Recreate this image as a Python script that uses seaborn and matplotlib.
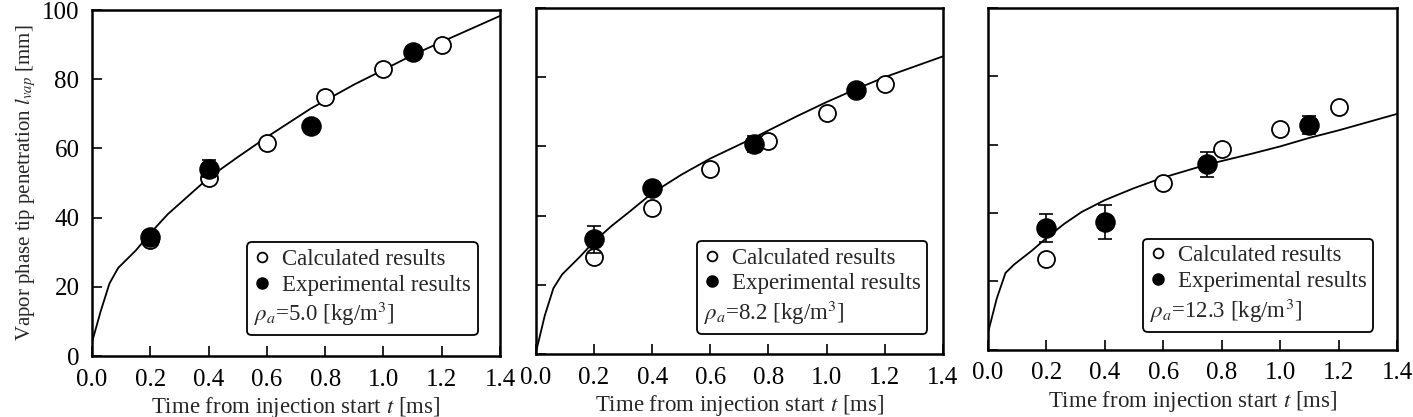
import matplotlib
matplotlib.use("Agg")
import matplotlib.pyplot as plt
from matplotlib.lines import Line2D
import seaborn as sns

# model curve and measured/calculated points for the three ambient densities
curve_t = [0.0, 0.03, 0.06, 0.09, 0.15, 0.2, 0.26, 0.32, 0.4, 0.5, 0.6, 0.75,
           0.9, 1.0, 1.1, 1.2, 1.4]
curve_5_0 = [4.0, 13.0, 21.0, 25.5, 30.5, 35.5, 41.0, 45.5, 51.5, 57.5, 63.3,
             71.5, 78.5, 82.7, 87.0, 90.8, 98.3]
curve_8_2 = [0.5, 11.0, 19.0, 23.0, 28.0, 32.5, 37.0, 41.0, 46.5, 51.8, 56.5,
             62.5, 68.8, 72.8, 76.5, 80.0, 86.0]
curve_12_3 = [5.0, 15.0, 22.5, 25.0, 29.0, 32.7, 36.8, 40.3, 43.8, 47.3, 50.4,
              54.2, 57.3, 59.5, 62.0, 64.2, 69.0]

calc_t = [0.2, 0.4, 0.6, 0.8, 1.0, 1.2]
calc_5_0 = [33.5, 51.6, 61.7, 74.8, 83.0, 89.9]
calc_8_2 = [28.1, 42.3, 53.6, 61.6, 69.7, 78.0]
calc_12_3 = [26.5, None, 48.7, 58.7, 64.6, 71.0]

exp_t = [0.2, 0.4, 0.75, 1.1]
exp_5_0 = [34.5, 54.2, 66.5, 87.8]
exp_8_2 = [33.1, 47.9, 60.7, 76.3]
exp_12_3 = [35.6, 37.5, 54.3, 65.8]
err_5_0 = [0.0, 2.4, 0.0, 0.0]
err_8_2 = [3.8, 1.8, 2.3, 1.5]
err_12_3 = [4.0, 5.0, 3.7, 2.7]

density_labels = [r"$\rho_a$=5.0 [kg/m$^3$]", r"$\rho_a$=8.2 [kg/m$^3$]",
                  r"$\rho_a$=12.3 [kg/m$^3$]"]
x_ticks = [0.0, 0.2, 0.4, 0.6, 0.8, 1.0, 1.2, 1.4]
y_ticks = [0, 20, 40, 60, 80, 100]

sns.set_theme(style="ticks")
plt.rcParams['font.family'] = ['Liberation Serif', 'DejaVu Serif']
plt.rcParams['mathtext.fontset'] = 'stix'

fig = plt.figure(figsize=(14.13, 4.17), dpi=100)
axes_pos = [
    [0.0651, 0.146, 0.2888, 0.830],
    [0.3793, 0.151, 0.2880, 0.830],
    [0.6992, 0.161, 0.2895, 0.820],
]
legend_anchor = [(0.945, 0.060), (0.962, 0.058), (0.942, 0.053)]

panels = [
    (curve_5_0, calc_5_0, exp_5_0, err_5_0),
    (curve_8_2, calc_8_2, exp_8_2, err_8_2),
    (curve_12_3, calc_12_3, exp_12_3, err_12_3),
]

for i, (curve, calc, expv, err) in enumerate(panels):
    ax = fig.add_axes(axes_pos[i])
    sns.lineplot(x=curve_t, y=curve, color='black', linewidth=1.3,
                 estimator=None, ax=ax, zorder=2)

    ct = [t for t, v in zip(calc_t, calc) if v is not None]
    cv = [v for v in calc if v is not None]
    sns.scatterplot(x=ct, y=cv, marker='o', s=150, facecolor='white',
                    edgecolor='black', linewidth=1.3, ax=ax, zorder=3)

    ax.errorbar(exp_t, expv, yerr=err, fmt='none', ecolor='black',
                elinewidth=1.2, capsize=5, capthick=1.2, zorder=4)
    sns.scatterplot(x=exp_t, y=expv, marker='o', s=190, color='black',
                    edgecolor='black', linewidth=1.0, ax=ax, zorder=5)

    ax.set_xlim(0, 1.4)
    ax.set_ylim(0, 100)
    ax.set_xticks(x_ticks)
    ax.set_xticklabels([f"{t:.1f}" for t in x_ticks])
    ax.set_yticks(y_ticks)
    if i == 0:
        ax.set_yticklabels([str(v) for v in y_ticks])
        ax.set_ylabel(r"Vapor phase tip penetration $l_{vap}$ [mm]",
                      fontsize=15, labelpad=3)
    else:
        ax.set_yticklabels([])
    ax.set_xlabel(r"Time from injection start $t$ [ms]", fontsize=16.5,
                  labelpad=3)
    ax.tick_params(direction='in', length=7, width=1.2, labelsize=18,
                   colors='black', pad=9)
    for sp in ax.spines.values():
        sp.set_visible(True)
        sp.set_linewidth(1.8)
        sp.set_color('black')

    handles = [
        Line2D([], [], marker='o', linestyle='none', markersize=7,
               markerfacecolor='white', markeredgecolor='black', markeredgewidth=1.3),
        Line2D([], [], marker='o', linestyle='none', markersize=8,
               markerfacecolor='black', markeredgecolor='black'),
    ]
    leg = ax.legend(handles, ["Calculated results", "Experimental results"],
                    title=density_labels[i], title_fontsize=16.5, fontsize=16.5,
                    alignment='left', loc='lower right',
                    bbox_to_anchor=legend_anchor[i], borderaxespad=0,
                    frameon=True, fancybox=True, framealpha=1,
                    edgecolor='black', handlelength=0.7, handletextpad=0.5,
                    borderpad=0.3, labelspacing=0.2)
    leg.get_frame().set_linewidth(1.3)
    # put the density line below the two entries, as in the original
    leg._legend_box._children.reverse()

fig.savefig("out.png", dpi=100)
